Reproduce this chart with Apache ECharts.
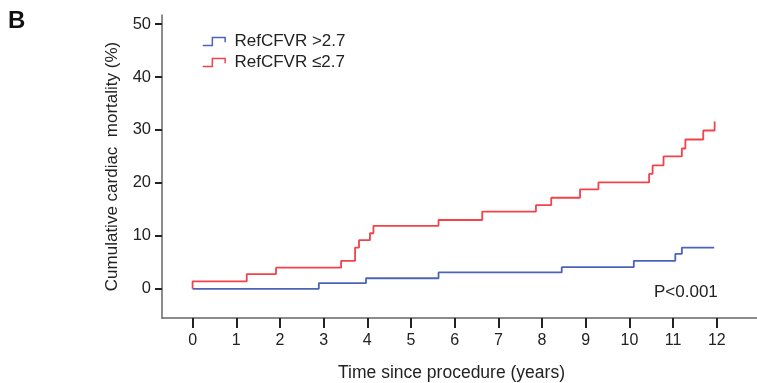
<!DOCTYPE html>
<html>
<head>
<meta charset="utf-8">
<script src="https://cdn.jsdelivr.net/npm/echarts@6/dist/echarts.min.js"></script>
<style>
  html, body { margin: 0; padding: 0; background: #fff; }
  #main { width: 757px; height: 383px; }
</style>
</head>
<body>
<div id="main"></div>
<script>
// step points (time in years, cumulative mortality in %)
var redTimes = [0, 0, 1.24, 1.91, 3.40, 3.72, 3.81, 4.06, 4.14, 5.63, 6.63, 7.86, 8.21, 8.87, 9.29, 10.45, 10.53, 10.78, 11.20, 11.28, 11.69, 11.95];
var redValues = [0, 1.4, 2.8, 4.0, 5.3, 7.8, 9.2, 10.5, 11.9, 13.0, 14.6, 15.8, 17.2, 18.8, 20.1, 21.7, 23.3, 25.0, 26.5, 28.2, 29.9, 31.6];
var blueTimes = [0, 2.89, 3.97, 5.63, 8.45, 10.10, 11.05, 11.20, 11.94];
var blueValues = [0, 1.1, 2.0, 3.1, 4.1, 5.3, 6.6, 7.8, 7.8];

var xTicks = [0, 1, 2, 3, 4, 5, 6, 7, 8, 9, 10, 11, 12];
var yTicks = [0, 10, 20, 30, 40, 50];

var blueName = 'RefCFVR >2.7';
var redName = 'RefCFVR \u22642.7';

var BLUE = '#4d63b8';
var RED = '#f2434b';
var TXT = '#222';
var FONT = '"Liberation Sans", Arial, sans-serif';

function pairs(t, v) {
  var out = [];
  for (var i = 0; i < t.length; i++) out.push([t[i], v[i]]);
  return out;
}

var stepIcon = 'path://M0,10 L12,10 L12,0 L28,0 L28,6';

var chart = echarts.init(document.getElementById('main'), null, { renderer: 'canvas' });
chart.setOption({
  animation: false,
  textStyle: { fontFamily: FONT },
  grid: { left: 162, right: 0, top: 15, bottom: 65, containLabel: false, outerBoundsMode: 'none' },
  legend: {
    orient: 'vertical',
    left: 197,
    top: 28,
    itemWidth: 29,
    itemHeight: 8,
    itemGap: 4,
    icon: stepIcon,
    textStyle: { fontSize: 17, color: TXT, fontFamily: FONT, padding: [0, 0, 0, 1] },
    data: [
      { name: blueName, itemStyle: { color: 'transparent', borderColor: BLUE, borderWidth: 1.5 } },
      { name: redName, itemStyle: { color: 'transparent', borderColor: RED, borderWidth: 1.5 } }
    ]
  },
  xAxis: {
    type: 'value',
    min: -0.7,
    max: 12.92,
    name: 'Time since procedure (years)',
    nameLocation: 'middle',
    nameGap: 46,
    nameTextStyle: { fontSize: 17.5, color: TXT, padding: [0, 16, 0, 0] },
    axisLine: { show: true, onZero: false, lineStyle: { color: '#666', width: 1.5 } },
    axisTick: { show: true, length: 10, lineStyle: { color: TXT, width: 2 }, customValues: xTicks },
    axisLabel: { fontSize: 16, color: TXT, margin: 15, customValues: xTicks },
    splitLine: { show: false }
  },
  yAxis: {
    type: 'value',
    min: -5.5,
    max: 51.7,
    name: 'Cumulative cardiac  mortality (%)',
    nameLocation: 'middle',
    nameGap: 41,
    nameTextStyle: { fontSize: 17, color: TXT },
    axisLine: { show: true, onZero: false, lineStyle: { color: '#666', width: 1.5 } },
    axisTick: { show: true, length: 7, lineStyle: { color: TXT, width: 2 }, customValues: yTicks },
    axisLabel: { fontSize: 16.5, color: TXT, margin: 11, customValues: yTicks },
    splitLine: { show: false }
  },
  graphic: [
    { type: 'text', left: 8, top: 9, style: { text: 'B', font: 'bold 24px ' + FONT, fill: '#111' } },
    { type: 'text', left: 654, top: 284, style: { text: 'P<0.001', font: '17px ' + FONT, fill: TXT } }
  ],
  series: [
    {
      name: blueName,
      type: 'line',
      step: 'end',
      showSymbol: false,
      lineStyle: { color: BLUE, width: 1.8 },
      itemStyle: { color: BLUE },
      data: pairs(blueTimes, blueValues)
    },
    {
      name: redName,
      type: 'line',
      step: 'end',
      showSymbol: false,
      lineStyle: { color: RED, width: 1.8 },
      itemStyle: { color: RED },
      data: pairs(redTimes, redValues)
    }
  ]
});
</script>
</body>
</html>
